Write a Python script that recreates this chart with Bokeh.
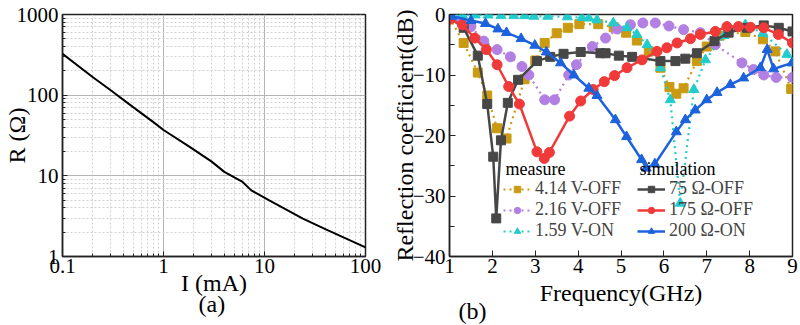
from bokeh.plotting import figure
from bokeh.layouts import row
from bokeh.models import Range1d, FixedTicker, SingleIntervalTicker, Legend, LegendItem, Label, Title
from bokeh.embed import file_html
from bokeh.resources import INLINE

FONT = "Liberation Serif"

# ---------------- (a) data ----------------
current_mA = [0.1, 0.2, 0.3, 0.5, 0.8, 1, 1.8, 3, 4, 6, 7.4, 11.5, 24, 41, 100]
resistance_ohm = [325, 167, 115, 71, 46, 37, 23, 15, 11.2, 8.5, 6.6, 4.85, 2.95, 2.15, 1.3]
a_x_ticks = [0.1, 1, 10, 100]
a_x_labels = ["0.1", "1", "10", "100"]
a_y_ticks = [1, 10, 100, 1000]
a_y_labels = ["1", "10", "100", "1000"]

# ---------------- (b) data ----------------
freq_ticks = [1, 2, 3, 4, 5, 6, 7, 8, 9]

m414_f = [1.0, 1.33, 1.66, 1.88, 2.11, 2.33, 2.75, 3.0, 3.22, 3.5, 3.76, 4.03, 4.47, 4.83, 5.12, 5.37,
          5.65, 5.92, 6.13, 6.29, 6.46, 6.77, 7.0, 7.3, 7.9, 8.31, 8.6, 8.97]
m414_db = [-0.5, -4.7, -9.6, -13.4, -18.8, -20.5, -10.7, -7.6, -4.7, -3.1, -2.2, -1.6, -1.6, -2.1, -3.0, -4.3,
           -6.1, -8.8, -12.0, -13.1, -12.2, -7.7, -5.3, -3.5, -2.9, -4.1, -6.1, -12.3]

m216_f = [1.0, 1.25, 1.5, 1.8, 2.11, 2.42, 2.69, 2.85, 3.22, 3.45, 3.78, 3.96, 4.33, 4.64, 4.91, 5.22,
          5.51, 5.8, 6.12, 6.46, 6.85, 7.2, 7.82, 8.09, 8.33, 8.62, 9.0]
m216_db = [-0.3, -1.0, -2.0, -4.4, -5.8, -7.0, -8.6, -10.0, -14.1, -14.1, -10.0, -8.3, -5.3, -3.9, -2.4, -1.7,
           -1.4, -1.4, -1.9, -2.5, -3.0, -5.0, -8.0, -9.1, -10.0, -10.4, -10.4]

m159_f = [1.0, 1.3, 1.6, 1.9, 2.2, 2.5, 2.75, 2.97, 3.29, 3.75, 4.09, 4.25, 4.44, 4.82, 5.14, 5.37, 5.61,
          5.92, 6.15, 6.38, 6.7, 6.97, 7.4, 7.9, 8.31, 8.87, 9.0]
m159_db = [0.0, -0.1, -0.1, -0.1, -0.2, -0.2, -0.2, -0.3, -0.3, -0.4, -0.5, -0.6, -0.9, -1.4, -2.2, -3.3, -5.0,
           -8.8, -14.1, -31.2, -12.4, -7.5, -3.5, -1.7, -3.1, -6.6, -8.0]

s75_f = [1.0, 1.33, 1.66, 1.88, 2.02, 2.09, 2.2, 2.36, 2.6, 3.04, 3.35, 3.66, 4.06, 4.52, 4.64, 4.95, 5.26,
         5.92, 6.27, 6.5, 6.77, 7.18, 7.51, 7.94, 8.33, 8.68, 9.0]
s75_db = [-0.5, -2.2, -6.8, -14.8, -23.5, -33.7, -20.8, -14.6, -10.8, -7.7, -7.0, -6.5, -6.2, -6.4, -6.4, -6.8,
          -7.0, -7.7, -7.7, -7.3, -6.4, -4.4, -3.0, -2.2, -1.8, -2.2, -2.8]

s175_f = [1.0, 1.3, 1.59, 1.86, 2.11, 2.38, 2.63, 3.04, 3.21, 3.33, 3.80, 4.06, 4.35, 4.61, 4.85, 5.14,
          5.49, 5.84, 6.07, 6.31, 6.62, 6.85, 7.2, 7.47, 7.74, 8.02, 8.33, 8.67, 9.0]
s175_db = [-0.8, -1.7, -3.9, -5.8, -8.3, -11.9, -14.8, -22.7, -23.8, -22.8, -16.8, -14.3, -12.4, -11.1, -10.1,
           -8.8, -7.5, -6.1, -5.5, -4.7, -4.0, -3.3, -2.8, -2.0, -2.0, -2.1, -2.2, -3.3, -4.7]

s200_f = [1.05, 1.5, 1.84, 2.13, 2.33, 2.67, 2.99, 3.26, 3.59, 3.90, 4.25, 4.44, 4.87, 5.13, 5.48, 5.59,
          5.79, 6.29, 6.5, 6.73, 7.0, 7.24, 7.55, 7.86, 8.25, 8.41, 8.56, 8.99]
s200_db = [-0.3, -1.0, -1.5, -2.4, -3.0, -4.0, -5.1, -6.2, -8.0, -10.0, -12.2, -13.4, -17.4, -20.2, -24.0,
           -25.4, -24.7, -19.4, -17.4, -15.8, -14.1, -12.9, -11.6, -10.5, -8.8, -5.8, -9.0, -8.0]

GOLD, LAV, CYAN = "#C99A12", "#B27FE2", "#22CCCC"
GRAY, RED, BLUE = "#474747", "#F03A3A", "#1C62DC"


def panel_title(text, offset, standoff):
    return Title(text=text, align="left", offset=offset, standoff=standoff,
                 text_font=FONT, text_font_size="24px", text_font_style="normal",
                 text_color="black")


# ---------------- figure (a) ----------------
pa = figure(width=385, height=325, x_axis_type="log", y_axis_type="log",
            x_range=Range1d(0.1, 100), y_range=Range1d(1, 1000),
            output_backend="svg", toolbar_location=None,
            min_border_left=58, min_border_right=20, min_border_top=14, min_border_bottom=69)
pa.background_fill_color = "white"
pa.border_fill_color = "white"
pa.outline_line_color = "#222222"
pa.outline_line_width = 1.5

x_minor = [m * d for d in [0.1, 1, 10] for m in range(2, 10)]
y_minor = [m * d for d in [1, 10, 100] for m in range(2, 10)]
pa.xaxis.ticker = FixedTicker(ticks=a_x_ticks, minor_ticks=x_minor)
pa.yaxis.ticker = FixedTicker(ticks=a_y_ticks, minor_ticks=y_minor)
pa.xaxis.major_label_overrides = dict(zip(a_x_ticks, a_x_labels))
pa.yaxis.major_label_overrides = dict(zip(a_y_ticks, a_y_labels))

for g in (pa.xgrid, pa.ygrid):
    g.grid_line_color = "#b4b4b4"
    g.grid_line_width = 1
    g.minor_grid_line_color = "#d0d0d0"
    g.minor_grid_line_dash = "2 2"
    g.minor_grid_line_width = 1

for ax in (pa.xaxis, pa.yaxis):
    ax.axis_line_color = "#222222"
    ax.axis_line_width = 1.5
    ax.major_tick_in = 5
    ax.major_tick_out = 0
    ax.minor_tick_in = 3
    ax.minor_tick_out = 0
    ax.major_tick_line_color = "#222222"
    ax.minor_tick_line_color = "#222222"
    ax.major_label_text_font = FONT
    ax.major_label_text_font_size = "21px"
    ax.major_label_text_color = "black"
    ax.axis_label_text_font = FONT
    ax.axis_label_text_font_size = "24px"
    ax.axis_label_text_font_style = "normal"
    ax.axis_label_text_color = "black"

pa.xaxis.axis_label = "I (mA)"
pa.yaxis.axis_label = "R (Ω)"
pa.xaxis.major_label_standoff = 2
pa.yaxis.major_label_standoff = 4
pa.xaxis.axis_label_standoff = -6
pa.yaxis.axis_label_standoff = -16

pa.line(current_mA, resistance_ohm, line_color="black", line_width=2)
pa.add_layout(panel_title("(a)", 136, -20), "below")

# ---------------- figure (b) ----------------
pb = figure(width=415, height=325, x_range=Range1d(1, 9), y_range=Range1d(-40, 0),
            output_backend="svg", toolbar_location=None,
            min_border_left=64, min_border_right=8, min_border_top=14, min_border_bottom=69)
pb.background_fill_color = "white"
pb.border_fill_color = "white"
pb.outline_line_color = "#222222"
pb.outline_line_width = 1.5
pb.xgrid.visible = False
pb.ygrid.visible = False
pb.xaxis.ticker = FixedTicker(ticks=freq_ticks)
pb.yaxis.ticker = SingleIntervalTicker(interval=10, num_minor_ticks=2)

for ax in (pb.xaxis, pb.yaxis):
    ax.axis_line_color = "#222222"
    ax.axis_line_width = 1.5
    ax.major_tick_in = 6
    ax.major_tick_out = 0
    ax.minor_tick_in = 5
    ax.minor_tick_out = 0
    ax.major_tick_line_color = "#222222"
    ax.minor_tick_line_color = "#222222"
    ax.major_label_text_font = FONT
    ax.major_label_text_font_size = "21px"
    ax.major_label_text_color = "black"
    ax.axis_label_text_font = FONT
    ax.axis_label_text_font_size = "24px"
    ax.axis_label_text_font_style = "normal"
    ax.axis_label_text_color = "black"

pb.xaxis.axis_label = "Frequency(GHz)"
pb.yaxis.axis_label = "Reflection coefficient(dB)"
pb.xaxis.major_label_standoff = 2
pb.yaxis.major_label_standoff = 4
pb.xaxis.axis_label_standoff = 4
pb.yaxis.axis_label_standoff = -8


def series(fx, fy, color, marker, dash, lw, size):
    ln = pb.line(fx, fy, line_color=color, line_width=lw, line_dash=dash)
    sc = pb.scatter(fx, fy, marker=marker, size=size, fill_color=color, line_color=color)
    return [ln, sc]


r414 = series(m414_f, m414_db, GOLD, "square", "dotted", 2.2, 9)
r216 = series(m216_f, m216_db, LAV, "circle", "dotted", 2.2, 10)
r159 = series(m159_f, m159_db, CYAN, "triangle", "dotted", 2.2, 10)
r75 = series(s75_f, s75_db, GRAY, "square", "solid", 2.5, 9)
r175 = series(s175_f, s175_db, RED, "circle", "solid", 2.5, 10)
r200 = series(s200_f, s200_db, BLUE, "triangle", "solid", 2.5, 10)

legend_titles = ["measure", "simulation"]
legend_labels = [["4.14 V-OFF", "2.16 V-OFF", "1.59 V-ON"], ["75 Ω-OFF", "175 Ω-OFF", "200 Ω-ON"]]
legend_renderers = [[r414, r216, r159], [r75, r175, r200]]
legend_x = [54, 188]
row_y = [57, 36, 15]

for title, labels, rends, lx in zip(legend_titles, legend_labels, legend_renderers, legend_x):
    pb.add_layout(Label(x=lx + 2, y=88, x_units="screen", y_units="screen", text=title,
                        text_baseline="middle", text_font=FONT, text_font_size="18px",
                        text_color="black"))
    for lab, rend, ly in zip(labels, rends, row_y):
        lg = Legend(items=[LegendItem(label=lab, renderers=rend)], location=(lx, ly))
        lg.background_fill_alpha = 0
        lg.border_line_alpha = 0
        lg.padding = 0
        lg.margin = 0
        lg.spacing = 0
        lg.label_height = 16
        lg.glyph_height = 16
        lg.glyph_width = 28
        lg.label_standoff = 4
        lg.label_text_font = FONT
        lg.label_text_font_size = "18px"
        pb.add_layout(lg)

pb.add_layout(panel_title("(b)", 9, -30), "below")

layout = row(pa, pb)
open("out.html", "w").write(file_html(layout, INLINE))
